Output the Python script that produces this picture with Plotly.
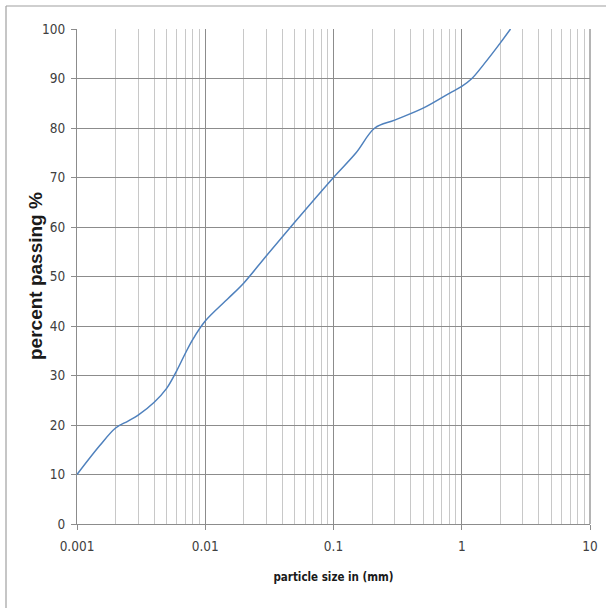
import plotly.graph_objects as go

size_mm = [0.001, 0.0015, 0.002, 0.0025, 0.003, 0.004, 0.005, 0.006, 0.007, 0.008, 0.01, 0.015, 0.02, 0.03, 0.05, 0.1, 0.15, 0.21, 0.3, 0.5, 0.8, 1.0, 1.2, 1.5, 2.0, 2.4]
passing = [10, 15.8, 19.4, 20.8, 22, 24.6, 27.4, 31, 34.5, 37.3, 41, 45.5, 48.7, 54.2, 61, 70, 75, 80, 81.6, 84, 87, 88.4, 90, 93, 97.2, 100]

x_ticks = [0.001, 0.01, 0.1, 1, 10]
x_tick_labels = ["0.001", "0.01", "0.1", "1", "10"]
y_ticks = list(range(0, 101, 10))

cond = "DejaVu Sans Condensed, Liberation Sans Narrow, sans-serif"
tick_font = dict(family=cond, size=13.5, color="#404040")

fig = go.Figure()
fig.add_trace(go.Scatter(
    x=size_mm, y=passing, mode="lines",
    line=dict(color="#4F81BD", width=1.5, shape="spline", smoothing=1.0),
    showlegend=False, hoverinfo="skip"))

fig.update_layout(
    width=606, height=608,
    margin=dict(l=77, r=16, t=29, b=84, autoexpand=False),
    paper_bgcolor="white", plot_bgcolor="white",
    xaxis=dict(
        type="log", range=[-3, 1], automargin=False,
        tickvals=x_ticks, ticktext=x_tick_labels,
        showgrid=True, gridcolor="#8c8c8c", gridwidth=1.3,
        ticks="outside", ticklen=5, tickcolor="#8c8c8c",
        tickfont=tick_font, ticklabelstandoff=5,
        showline=True, linecolor="#8c8c8c", linewidth=1.3,
        zeroline=False,
        minor=dict(showgrid=True, dtick="D1", gridcolor="#c8c8c8", gridwidth=1.3, ticks=""),
        title=dict(text="<b>particle size in (mm)</b>",
                   font=dict(family=cond, size=11.5, color="#1a1a1a"),
                   standoff=19),
    ),
    yaxis=dict(
        range=[0, 100], tickvals=y_ticks, automargin=False,
        showgrid=True, gridcolor="#8c8c8c", gridwidth=1.3,
        ticks="outside", ticklen=5, tickcolor="#8c8c8c",
        tickfont=tick_font, ticklabelstandoff=3,
        showline=True, linecolor="#8c8c8c", linewidth=1.3,
        zeroline=False,
    ),
    annotations=[
        dict(text="<b>percent passing %</b>", xref="paper", yref="paper",
             x=-0.0819, y=0.501, xanchor="center", yanchor="middle", textangle=-90,
             showarrow=False,
             font=dict(family="Liberation Sans, Arial, sans-serif", size=19, color="#1a1a1a")),
    ],
    shapes=[
        dict(type="line", xref="paper", yref="paper", x0=-0.1384, x1=1.1, y0=1.0465, y1=1.0465,
             line=dict(color="#a0a0a0", width=1.2)),
        dict(type="line", xref="paper", yref="paper", x0=-0.1384, x1=-0.1384, y0=-0.2, y1=1.0465,
             line=dict(color="#a0a0a0", width=1.2)),
        dict(type="line", xref="paper", yref="paper", x0=1, x1=1, y0=0, y1=1,
             line=dict(color="#8c8c8c", width=1.3)),
    ],
)

fig.write_html("out.html")
